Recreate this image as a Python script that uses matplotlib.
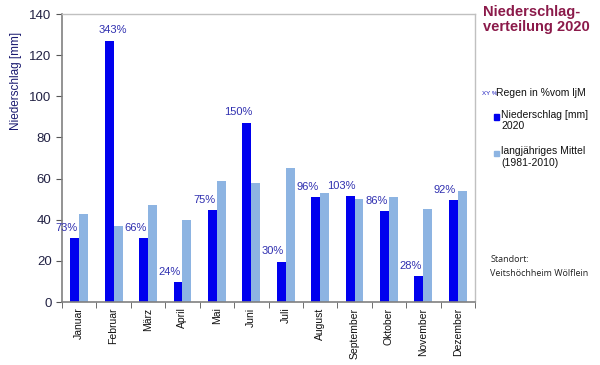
import matplotlib.pyplot as plt
import numpy as np

months = ["Januar", "Februar", "März", "April", "Mai", "Juni", "Juli",
          "August", "September", "Oktober", "November", "Dezember"]
rain_2020 = [31, 127, 31, 9.5, 44.5, 87, 19.5, 51, 51.5, 44, 12.5, 49.5]
mean_1981_2010 = [43, 37, 47, 40, 59, 58, 65, 53, 50, 51, 45, 54]
pct_labels = ["73%", "343%", "66%", "24%", "75%", "150%", "30%",
              "96%", "103%", "86%", "28%", "92%"]

plt.rcParams['font.family'] = ['Liberation Sans', 'DejaVu Sans']

fig = plt.figure(figsize=(6, 3.65), dpi=100)
ax = fig.add_axes([0.1033, 0.1726, 0.6884, 0.789])

x = np.arange(len(months))
w = 0.26
ax.bar(x - w / 2, rain_2020, w, color='#0000ee', zorder=2)
ax.bar(x + w / 2, mean_1981_2010, w, color='#8db4e2', zorder=2)

# percent labels, slightly left of the 2020 bar
for i, (v, t) in enumerate(zip(rain_2020, pct_labels)):
    dx = 0.1 if i == 1 else -0.24
    ax.annotate(t, (x[i] - w / 2 + dx, v), xytext=(0, 4), textcoords='offset points',
                ha='center', va='bottom', fontsize=8, color='#3030b0')

ax.set_xlim(-0.5, 11.5)
ax.set_ylim(0, 140)
ax.set_yticks(range(0, 141, 20))
ax.tick_params(axis='y', labelsize=9.5, colors='#555555', labelcolor='#222244', length=4)
ax.set_xticks(x)
ax.set_xticklabels(months, rotation=90, fontsize=7.5, color='#111111')
ax.tick_params(axis='x', length=0, pad=4)
ax.set_xticks(np.arange(-0.5, 12, 1), minor=True)
ax.tick_params(axis='x', which='minor', length=4, color='#555555')

for s in ['left', 'bottom']:
    ax.spines[s].set_color('#808080')
    ax.spines[s].set_linewidth(1.2)
for s in ['top', 'right']:
    ax.spines[s].set_color('#c0c0c0')
    ax.spines[s].set_linewidth(1.0)

ax.set_ylabel("Niederschlag [mm]", fontsize=8.5, color='#1a1a70')
ax.yaxis.set_label_coords(-0.097, 0.767)

# title and legend area on the right
fig.text(0.805, 0.985, "Niederschlag-\nverteilung 2020", fontsize=10.5, fontweight='bold',
         color='#8b1a4a', va='top', ha='left', linespacing=1.05)
fig.text(0.803, 0.745, "XY %", fontsize=4.5, color='#2020c0', va='center')
fig.text(0.827, 0.745, "Regen in %vom ljM", fontsize=7.5, color='#111111', va='center')
fig.patches.append(plt.Rectangle((0.823, 0.672), 0.008, 0.015, color='#0000ee',
                                 transform=fig.transFigure, figure=fig))
fig.text(0.835, 0.7, "Niederschlag [mm]\n2020", fontsize=7.5, color='#111111',
         va='top', linespacing=1.2)
fig.patches.append(plt.Rectangle((0.823, 0.572), 0.008, 0.015, color='#8db4e2',
                                 transform=fig.transFigure, figure=fig))
fig.text(0.835, 0.6, "langjähriges Mittel\n(1981-2010)", fontsize=7.5, color='#111111',
         va='top', linespacing=1.2)
fig.text(0.817, 0.27, "Standort:\nVeitshöchheim Wölflein", fontsize=6.5, color='#222222',
         family=['Open Sans', 'DejaVu Sans'], va='center', linespacing=1.8)

fig.savefig("out.png", dpi=100)
